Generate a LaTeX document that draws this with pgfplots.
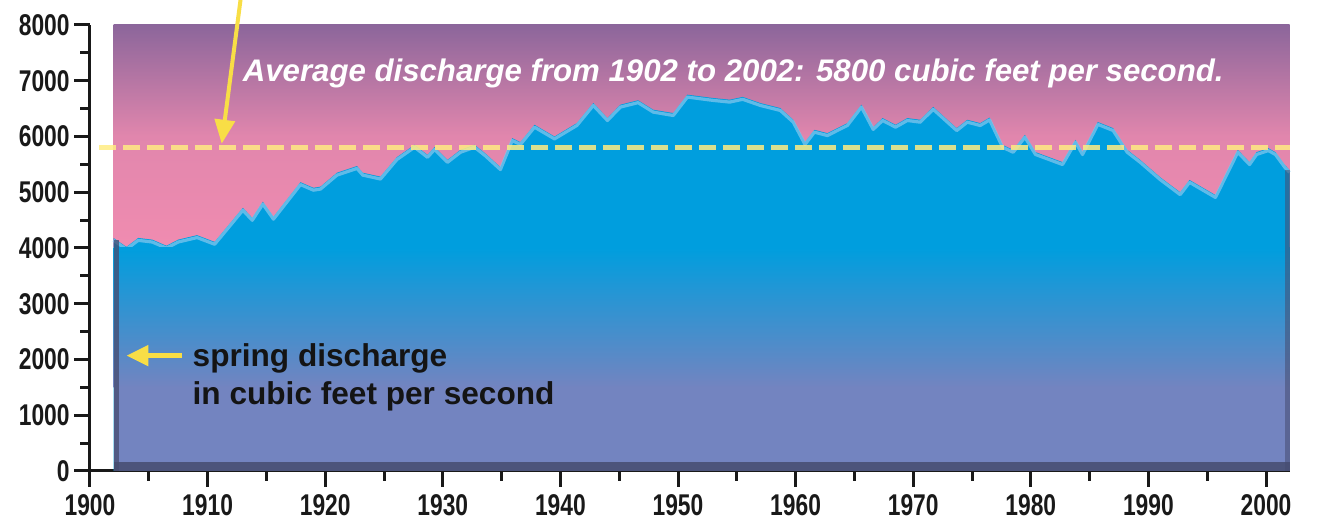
\documentclass[border=0pt]{standalone}
\usepackage{pgfplots}
\pgfplotsset{compat=1.18}
\usepackage{pgfplotstable}
\usetikzlibrary{arrows.meta}
\usepackage{fontspec}
\setmainfont{Liberation Sans}
\newfontfamily\narrowfont{Liberation Sans}[FakeStretch=0.76]
\definecolor{bgtop}{RGB}{140,102,155}
\definecolor{bgpink}{RGB}{240,140,176}
\definecolor{areablue}{RGB}{0,158,222}
\definecolor{lowblue}{RGB}{115,132,192}
\definecolor{darkedge}{RGB}{70,76,112}
\definecolor{hilite}{RGB}{135,200,238}
\definecolor{arrowyellow}{RGB}{248,222,70}
\definecolor{dashyellow}{RGB}{255,236,130}

\pgfplotstableread{
year value
1902.0 4180
1903.1 4020
1904.1 4180
1905.3 4150
1906.5 4040
1907.5 4150
1909.1 4230
1910.6 4110
1913.0 4720
1913.8 4540
1914.7 4830
1915.6 4560
1917.9 5180
1919.0 5080
1919.6 5100
1921.0 5350
1922.7 5470
1923.2 5350
1924.7 5280
1926.1 5630
1927.6 5850
1928.7 5670
1929.3 5810
1930.4 5580
1931.5 5760
1932.7 5850
1933.6 5700
1934.9 5450
1935.9 5970
1936.6 5900
1937.8 6210
1939.5 6000
1941.4 6240
1942.8 6600
1944.0 6330
1945.1 6570
1946.6 6650
1947.9 6480
1949.6 6420
1950.8 6750
1953.0 6690
1954.4 6660
1955.5 6710
1957.0 6600
1958.7 6510
1959.8 6300
1960.8 5900
1961.6 6120
1962.7 6060
1964.4 6240
1965.6 6570
1966.6 6170
1967.4 6330
1968.5 6210
1969.5 6330
1970.6 6300
1971.7 6530
1973.7 6150
1974.6 6300
1975.7 6240
1976.5 6340
1977.6 5850
1978.5 5760
1979.5 6030
1980.4 5720
1982.7 5540
1983.8 5940
1984.4 5720
1985.7 6260
1987.0 6150
1988.2 5760
1989.3 5580
1991.0 5270
1992.7 5000
1993.5 5220
1995.7 4950
1997.6 5760
1998.6 5540
1999.2 5720
2000.2 5790
2000.8 5720
2001.6 5490
2002.0 5400
}\discharge

\begin{document}
\begin{tikzpicture}
\begin{axis}[
  scale only axis,
  width=599.76pt, height=223pt,
  xmin=1900, xmax=2002, ymin=0, ymax=8000,
  axis x line=bottom, axis y line=left,
  axis line style={-, line width=1.5pt, black!90},
  xtick={1900,1910,...,2000},
  minor xtick={1905,1915,...,1995},
  ytick={0,1000,...,8000},
  minor ytick={500,1500,...,7500},
  tick align=outside,
  major tick length=8pt, minor tick length=5pt,
  tick style={line width=1.5pt, black!90},
  ticklabel style={font={\narrowfont\fontsize{15}{17}\bfseries\selectfont}, text=black!90},
  xticklabel style={inner sep=1pt, yshift=-2.5pt},
  yticklabel style={inner sep=2pt},
  /pgf/number format/1000 sep={},
  /pgf/number format/assume math mode=true,
  clip=false,
]
% background gradient
\fill[top color=bgtop, bottom color=bgpink, middle color=bgpink!85!bgtop]
  (axis cs:1902,4000) rectangle (axis cs:2002,8000);
\fill[bgpink] (axis cs:1902,0) rectangle (axis cs:2002,4000);
% blue area
\addplot[draw=none, fill=areablue] table[x=year, y=value] {\discharge} \closedcycle;
% highlight along top edge
\addplot[hilite, line width=1.6pt, opacity=0.7, yshift=-1.2pt, line join=round] table[x=year, y=value] {\discharge};
% lower gradient
\fill[top color=areablue, bottom color=lowblue] (axis cs:1902,1500) rectangle (axis cs:2002,4000);
\fill[lowblue] (axis cs:1902,0) rectangle (axis cs:2002,1500);
% dark bevel edges
\fill[darkedge, opacity=0.75] (axis cs:1902,0) rectangle (axis cs:1902.5,4150);
\fill[darkedge, opacity=0.55] (axis cs:2001.6,0) rectangle (axis cs:2002,5400);
\fill[darkedge, opacity=0.85] (axis cs:1902,0) rectangle (axis cs:2002,160);
% average line
\addplot[dashyellow, opacity=0.85, line width=2.2pt, dash pattern=on 8.5pt off 3.5pt] coordinates {(1900.8,5800) (2002,5800)};
% arrows
\draw[arrowyellow, line width=2pt, -{Triangle[width=10pt,length=12pt]}] (axis cs:1912.8,8450) -- (axis cs:1911.2,5870);
\draw[arrowyellow, line width=2.5pt, -{Triangle[width=10pt,length=11pt]}] (axis cs:1907.8,2070) -- (axis cs:1903.1,2070);
% texts
\node[anchor=base, inner sep=0pt, text=white, font={\fontsize{15.6}{18}\bfseries\itshape\selectfont}] at (axis cs:1954.7,6980) {Average discharge from 1902 to 2002: 5800 cubic feet per second.};
\node[anchor=base west, inner sep=0pt, text=black!92, font={\fontsize{15.8}{19}\bfseries\selectfont}] at (axis cs:1908.7,1866) {spring discharge};
\node[anchor=base west, inner sep=0pt, text=black!92, font={\fontsize{15.8}{19}\bfseries\selectfont}] at (axis cs:1908.7,1184) {in cubic feet per second};
\end{axis}
\pgfresetboundingbox
\path[use as bounding box] (-45pt,-26pt) rectangle (613.5pt,235.5pt);
\end{tikzpicture}
\end{document}
